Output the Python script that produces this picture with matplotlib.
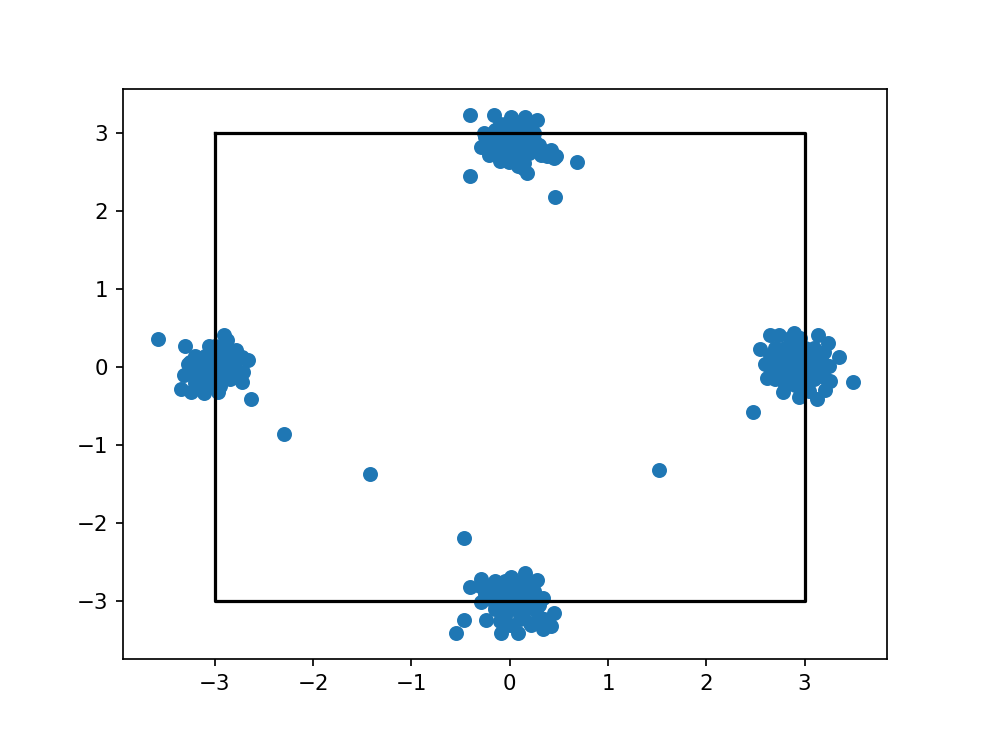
import matplotlib
matplotlib.use("Agg")
import matplotlib.pyplot as plt

# cluster near (0, 3)
top_x = [-0.40, -0.40, 0.68, 0.46, 0.42, 0.47, 0.38, -0.16, 0.01, 0.16, 0.28, -0.26, -0.29,
         -0.21, -0.01, 0.18, 0.13, 0.32, 0.45, 0.06, 0.22,
         -0.2, -0.1, 0.0, 0.1, 0.2, -0.2, -0.1, 0.0, 0.1, 0.2, -0.15, -0.05, 0.05, 0.15, 0.25,
         -0.1, 0.05, 0.15, -0.05,
         -0.15, -0.05, 0.05, 0.15, 0.25, -0.25, -0.15, -0.05, 0.05, 0.15, 0.25, 0.3,
         -0.1, 0.0, 0.1, 0.2, 0.35, -0.22, 0.08, 0.12]
top_y = [3.24, 2.46, 2.64, 2.19, 2.79, 2.71, 2.71, 3.23, 3.21, 3.21, 3.17, 3.01, 2.82,
         2.72, 2.63, 2.49, 2.56, 2.72, 2.69, 3.15, 3.10,
         2.75, 2.75, 2.75, 2.75, 2.75, 2.90, 2.90, 2.90, 2.90, 2.90, 3.05, 3.05, 3.05, 3.05, 3.0,
         2.65, 2.68, 2.62, 3.12,
         2.82, 2.82, 2.82, 2.82, 2.82, 2.95, 2.97, 2.97, 2.97, 2.97, 2.92, 2.85,
         3.12, 3.14, 3.12, 3.08, 2.78, 2.88, 2.58, 2.70]

# cluster near (0, -3)
bot_x = [-0.47, -0.55, -0.47, -0.40, -0.29, 0.01, 0.16, 0.28, 0.34, 0.45, 0.42, 0.34, 0.21,
         0.08, -0.09, -0.24, -0.29, 0.13,
         -0.2, -0.1, 0.0, 0.1, 0.2, -0.2, -0.1, 0.0, 0.1, 0.2, -0.15, -0.05, 0.05, 0.15, 0.25,
         -0.1, 0.0, 0.1, 0.3, -0.25,
         -0.15, -0.05, 0.05, 0.15, 0.25, -0.2, -0.1, 0.0, 0.1, 0.2, 0.3, -0.15, -0.05, 0.05,
         0.15, 0.35, -0.3, 0.22, -0.05, 0.1]
bot_y = [-2.19, -3.40, -3.24, -2.82, -2.71, -2.69, -2.63, -2.73, -2.96, -3.15, -3.31, -3.35, -3.27,
         -3.40, -3.40, -3.24, -3.01, -3.20,
         -2.80, -2.80, -2.80, -2.80, -2.80, -2.95, -2.95, -2.95, -2.95, -2.95, -3.10, -3.10, -3.10,
         -3.10, -3.10, -3.25, -3.30, -3.22, -3.05, -2.90,
         -2.74, -2.74, -2.74, -2.72, -2.86, -2.88, -2.88, -2.88, -2.88, -2.88, -3.20, -3.03,
         -3.03, -3.03, -3.03, -3.22, -2.80, -3.30, -3.18, -3.16]

# cluster near (-3, 0)
left_x = [-3.58, -3.30, -2.91, -3.06, -2.66, -2.73, -2.63, -3.35, -3.24, -3.11, -2.97, -3.32,
          -3.27, -2.73, -2.71, -2.79, -2.88,
          -3.2, -3.1, -3.0, -2.9, -2.8, -3.2, -3.1, -3.0, -2.9, -2.8, -3.15, -3.05, -2.95, -2.85,
          -3.0, -2.9,
          -3.25, -3.15, -3.05, -2.95, -2.85, -3.25, -3.15, -3.05, -2.95, -2.85, -2.78, -3.1,
          -3.0, -2.95, -3.2]
left_y = [0.36, 0.27, 0.41, 0.28, 0.09, 0.13, -0.41, -0.27, -0.32, -0.33, -0.32, -0.10,
          0.05, -0.19, -0.06, 0.22, 0.35,
          0.15, 0.15, 0.15, 0.15, 0.15, 0.0, 0.0, 0.0, 0.0, 0.0, -0.15, -0.15, -0.15, -0.15,
          0.28, 0.25,
          0.07, 0.07, 0.07, 0.07, 0.07, -0.07, -0.07, -0.07, -0.07, -0.07, -0.12, -0.24,
          -0.24, -0.24, -0.2]

# stray points
mid_x = [-2.30, -1.42, 1.52]
mid_y = [-0.85, -1.37, -1.31]

# cluster near (3, 0)
right_x = [2.65, 2.55, 2.60, 2.62, 2.78, 2.94, 3.13, 3.21, 3.26, 3.35, 3.24, 3.14, 2.89, 2.74,
           3.49, 2.48,
           2.7, 2.8, 2.9, 3.0, 3.1, 3.2, 2.7, 2.8, 2.9, 3.0, 3.1, 3.2, 2.75, 2.85, 2.95, 3.05,
           3.15, 2.8, 2.9, 3.0, 2.95, 2.85, 3.05,
           2.65, 2.75, 2.85, 2.95, 3.05, 3.15, 2.65, 2.75, 2.85, 2.95, 3.05, 3.15, 3.25,
           2.7, 2.82, 2.9, 3.0, 3.1, 3.2, 2.88]
right_y = [0.41, 0.24, 0.05, -0.14, -0.32, -0.38, -0.40, -0.29, -0.17, 0.13, 0.31, 0.41, 0.44, 0.41,
           -0.19, -0.57,
           0.25, 0.25, 0.25, 0.25, 0.25, 0.2, 0.08, 0.08, 0.08, 0.08, 0.08, 0.05, -0.08, -0.08,
           -0.08, -0.08, -0.08, -0.22, -0.22, -0.22, 0.38, 0.38, -0.30,
           0.16, 0.16, 0.16, 0.16, 0.16, 0.16, 0.0, 0.0, 0.0, 0.0, 0.0, 0.0, 0.02,
           -0.15, -0.15, -0.15, -0.15, -0.15, -0.12, 0.32]

square_x = [-3, 3, 3, -3, -3]
square_y = [3, 3, -3, -3, 3]

xs = top_x + bot_x + left_x + mid_x + right_x
ys = top_y + bot_y + left_y + mid_y + right_y

fig, ax = plt.subplots(figsize=(6.4026, 4.8052), dpi=154)
ax.scatter(xs, ys)
ax.plot(square_x, square_y, color="black")
fig.savefig("out.png", dpi=154)
